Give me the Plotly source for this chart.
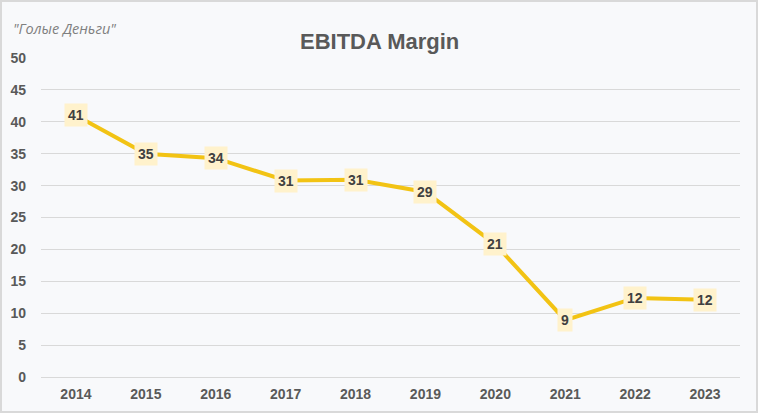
import plotly.graph_objects as go

years = ["2014", "2015", "2016", "2017", "2018", "2019", "2020", "2021", "2022", "2023"]
margin = [41, 35, 34.3, 30.8, 30.9, 29, 20.8, 8.9, 12.4, 12.1]
labels = ["41", "35", "34", "31", "31", "29", "21", "9", "12", "12"]

W, H = 758, 413
L, R, T, B = 41, 18, 58, 36
pw, ph = W - L - R, H - T - B

fig = go.Figure()
fig.add_trace(go.Scatter(
    x=years, y=margin, mode="lines",
    line=dict(color="#F2C314", width=4),
    hoverinfo="skip",
))

for i, (y, t) in enumerate(zip(margin, labels)):
    fig.add_annotation(
        x=i, y=y, text="<b>%s</b>" % t, showarrow=False,
        bgcolor="#FFF2CC", borderpad=3,
        font=dict(family="Liberation Sans, Arial", size=14, color="#404040"),
    )

fig.add_annotation(
    xref="paper", yref="paper",
    x=(379 - L) / pw, y=(H - B - 27) / ph,
    text="<b>EBITDA Margin</b>", showarrow=False,
    font=dict(family="Liberation Sans, Arial", size=22, color="#595959"),
)
fig.add_annotation(
    xref="paper", yref="paper",
    x=(11 - L) / pw, y=(H - B - 17) / ph, xanchor="left",
    text="<i>\"Голые Деньги\"</i>", showarrow=False,
    font=dict(family="Open Sans, Liberation Sans", size=14.5, color="#7F7F7F"),
)

fig.add_shape(
    type="rect", xref="paper", yref="paper",
    x0=(1 - L) / pw, x1=(W - 1 - L) / pw,
    y0=(H - B - (H - 1)) / ph, y1=(H - B - 1) / ph,
    line=dict(color="#D9D9D9", width=2), fillcolor="rgba(0,0,0,0)", layer="below",
)

fig.update_layout(
    width=W, height=H,
    margin=dict(l=L, r=R, t=T, b=B),
    paper_bgcolor="#F8F9FB", plot_bgcolor="#F8F9FB",
    showlegend=False,
    xaxis=dict(
        type="category", range=[-0.5, len(years) - 0.5], automargin=False,
        showgrid=False, showline=False, ticks="",
        tickfont=dict(family="Liberation Sans, Arial", size=14, color="#595959", weight="bold"),
        ticklabelstandoff=7,
    ),
    yaxis=dict(
        range=[0, 50], dtick=5, showgrid=True, gridcolor="#D9D9D9", gridwidth=1,
        zeroline=True, zerolinecolor="#D9D9D9", zerolinewidth=1, automargin=False,
        showline=False, ticks="",
        tickfont=dict(family="Liberation Sans, Arial", size=14, color="#595959", weight="bold"),
        ticklabelstandoff=14,
    ),
)

fig.write_html(
    "out.html",
    config={"displayModeBar": False},
    post_script="document.body.style.margin='0';document.body.style.overflow='hidden';",
)
